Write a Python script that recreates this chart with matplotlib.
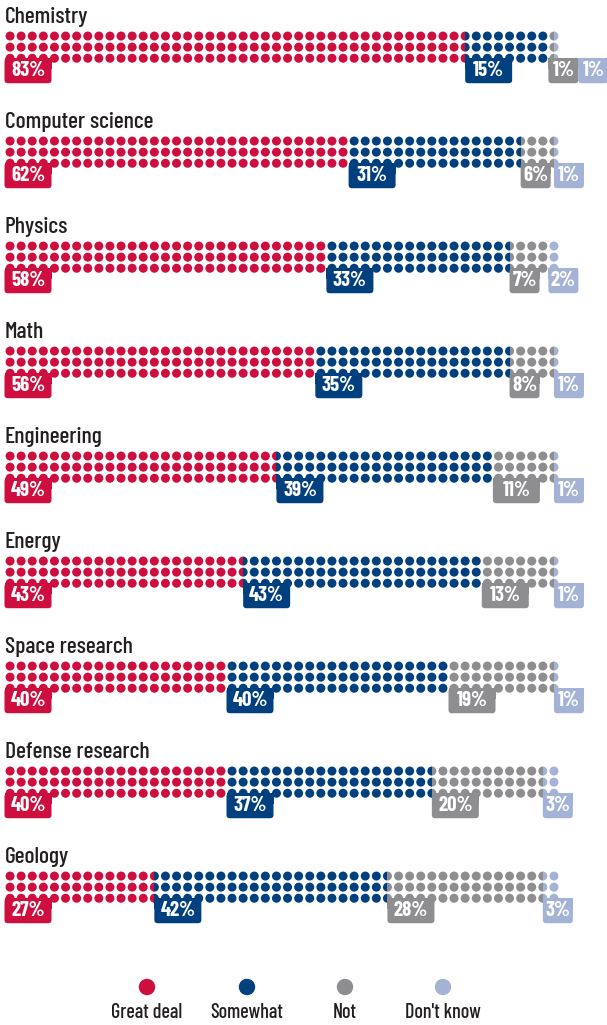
import matplotlib
matplotlib.use('Agg')
import matplotlib.pyplot as plt
from matplotlib.path import Path
from matplotlib.patches import FancyBboxPatch, Rectangle, Circle
from matplotlib.transforms import Affine2D

# How much trust in each field (percent)
subjects = ['Chemistry', 'Computer science', 'Physics', 'Math', 'Engineering',
            'Energy', 'Space research', 'Defense research', 'Geology']
great_deal = [83, 62, 58, 56, 49, 43, 40, 40, 27]
somewhat = [15, 31, 33, 35, 39, 43, 40, 37, 42]
not_trust = [1, 6, 7, 8, 11, 13, 19, 20, 28]
dont_know = [1, 1, 2, 1, 1, 1, 1, 3, 3]
answers = ['Great deal', 'Somewhat', 'Not', "Don't know"]
colors = ['#CE0E3F', '#01407F', '#8E8E90', '#A3B2D5']

fonts = ['Barlow Condensed', 'Roboto Condensed', 'DejaVu Sans']

W, H = 607, 1025
fig = plt.figure(figsize=(W / 100, H / 100), dpi=100)

ncol, nrow = 50, 3
cell = 555 / ncol          # px per column
rx = 4.5 / (cell / 2)      # dot radius in percent units
ry = 4.5 / cell            # dot radius in row units

dots = []
for c in range(ncol):
    for r in range(nrow):
        t = Affine2D().scale(rx, ry).translate(2 * c + 1, r + 0.5)
        dots.append(t.transform_path(Path.unit_circle()))
dot_path = Path.make_compound_path(*dots)

for i, name in enumerate(subjects):
    top = 30.5 + 105 * i
    ax = fig.add_axes([4.5 / W, 1 - (top + cell * 3) / H, 555 / W, cell * 3 / H])
    ax.set_xlim(0, 100)
    ax.set_ylim(3, 0)
    ax.axis('off')

    vals = [great_deal[i], somewhat[i], not_trust[i], dont_know[i]]
    left = 0
    label_end = 0
    for v, col in zip(vals, colors):
        bars = ax.barh(1.5, v, left=left, height=3, color=col, linewidth=0)
        for b in bars:
            b.set_clip_path(dot_path, ax.transData)

        # label box sits under the last dot row, pushed right if it would overlap
        txt = f'{v}%'
        w = (13 + 17 * (len(txt) - 1)) / (cell / 2)
        x = max(left, label_end)
        ax.add_patch(Rectangle((x, 2.5), w, 1.0, color=col, linewidth=0,
                               clip_on=False, zorder=3))
        ax.add_patch(FancyBboxPatch((x, 2.5), w, 2.25,
                                    boxstyle='round,pad=0,rounding_size=0.6',
                                    mutation_aspect=0.5, color=col, linewidth=0,
                                    clip_on=False, zorder=3))
        ax.text(x + w / 2, 3.62, txt, color='white', fontsize=15, fontweight='bold',
                family=fonts, ha='center', va='center', clip_on=False, zorder=4)
        label_end = x + w
        left += v

    fig.text(5 / W, 1 - (17 + 105 * i) / H, name, fontsize=17, color='#231F20',
             fontweight='medium', family=fonts, ha='left', va='center')

# legend
leg_x = [147, 247, 345, 443]
for x, lab, col in zip(leg_x, answers, colors):
    fig.add_artist(Circle((x / 100, (H - 987) / 100), 0.075, color=col,
                          transform=fig.dpi_scale_trans))
    fig.text(x / W, 1 - 1012 / H, lab, fontsize=14.5, color='#231F20',
             fontweight='medium', family=fonts, ha='center', va='center')

fig.savefig('out.png', dpi=100)
